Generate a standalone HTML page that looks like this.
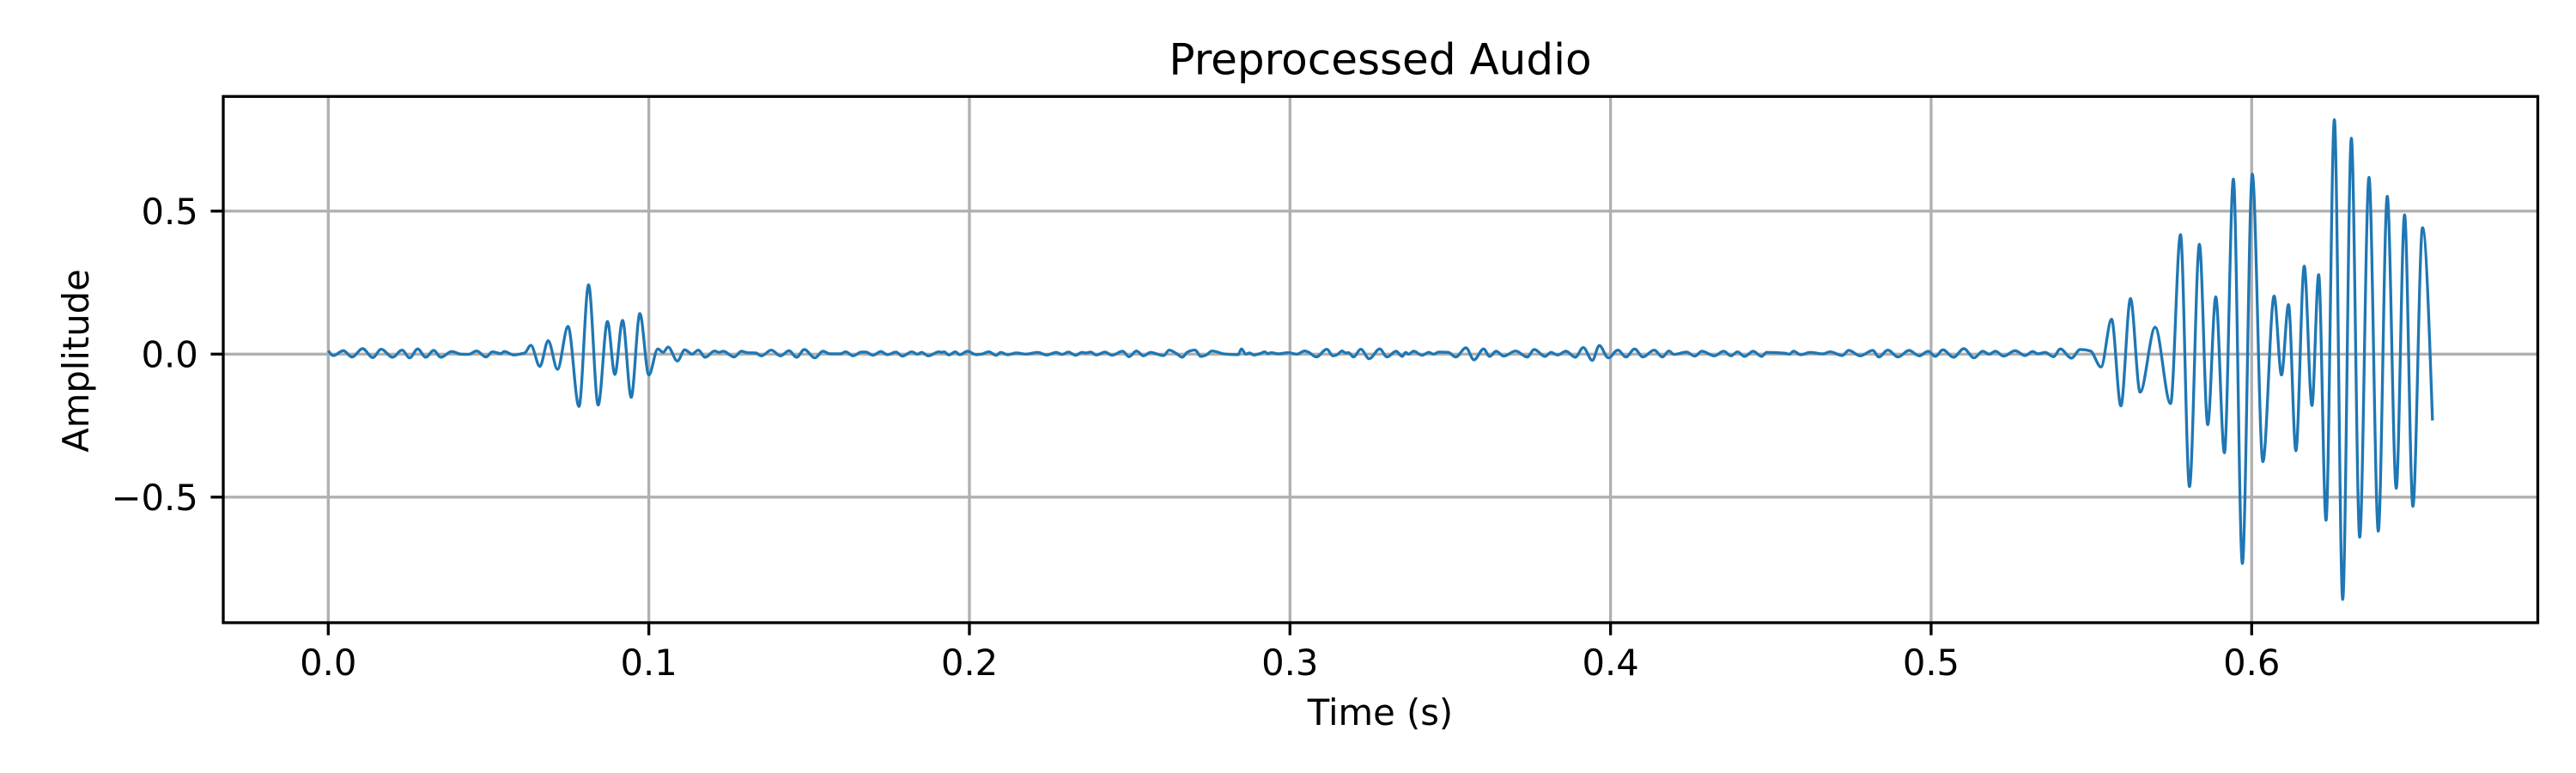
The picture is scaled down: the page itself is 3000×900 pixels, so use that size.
<!DOCTYPE html>
<html lang="en">
<head>
<meta charset="utf-8">
<title>Preprocessed Audio</title>
<style>
html,body{margin:0;padding:0;background:#fff;width:3000px;height:900px;overflow:hidden}
svg{display:block}
text{font-family:"DejaVu Sans","Liberation Sans",sans-serif;fill:#000}
</style>
</head>
<body>
<svg id="chart" xmlns="http://www.w3.org/2000/svg" width="3000" height="900" viewBox="0 0 3000 900">
  <rect x="0" y="0" width="3000" height="900" fill="#fff"/>
  <g id="grid"></g>
  <path id="wave" fill="none" stroke="#1f77b4" stroke-width="3.33" stroke-linejoin="round" stroke-linecap="butt"/>
  <g id="ticks"></g>
  <rect x="260" y="112.3" width="2695.5" height="612.7" fill="none" stroke="#000" stroke-width="3.33"/>
  <text x="1607.5" y="86.5" font-size="50" text-anchor="middle">Preprocessed Audio</text>
  <text x="1607.5" y="844" font-size="41.67" text-anchor="middle">Time (s)</text>
  <text transform="translate(103 420) rotate(-90)" font-size="41.67" text-anchor="middle">Amplitude</text>
</svg>
<script>
const xTicks = [0, 0.1, 0.2, 0.3, 0.4, 0.5, 0.6];
const xTickLabels = ['0.0', '0.1', '0.2', '0.3', '0.4', '0.5', '0.6'];
const yTicks = [0.5, 0, -0.5];
const yTickLabels = ['0.5', '0.0', '\u22120.5'];

const times = [
0,.0016,.0047,.0074,.0107,.0139,.0165,.0201,.0230,.0254,.0279,.0304,.0329,.0351,.0385,.0413,.0437,.0463,.0492,.0512,.0538,.0549,.0579,.0605,.0614,
.0632,.0660,.0686,.0715,.0748,.0782,.0812,.0842,.0871,.0894,.0918,.0945,.0972,.1000,.1028,.1045,.1060,.1089,.1112,.1135,.1154,.1176,
.1205,.1219,.1232,.1266,.1289,.1307,.1333,.1351,.1382,.1411,.1437,.1461,.1485,.1518,.1543,.1565,.1597,.1614,.1637,.1663,.1677,.1699,.1724,.1744,.1771,.1791,
.1820,.1838,.1851,.1872,.1905,.1914,.1921,.1936,.1956,.1970,.1994,.2021,.2038,.2061,.2083,.2098,.2119,.2146,.2177,.2213,.2241,.2271,.2289,.2309,.2331,.2351,.2364,.2378,
.2396,.2423,.2445,.2478,.2498,.2521,.2543,.2565,.2606,.2623,.2646,.2664,.2680,.2704,.2722,.2739,.2757,.2793,.2838,.2849,.2862,.2874,.2887,.2909,.2921,.2931,.2942,.2963,.2994,
.3022,.3046,.3059,.3082,.3115,.3134,.3147,.3163,.3173,.3183,.3198,.3221,.3247,.3280,.3303,.3331,.3350,.3361,.3370,.3386,.3412,.3433,.3448,.3464,.3494,
.3517,.3549,.3574,.3604,.3623,.3643,.3667,.3704,.3740,.3762,.3796,.3814,.3835,.3861,.3890,.3915,.3943,.3965,.3993,.4023,.4048,.4075,.4101,.4136,.4162,.4182,.4198,
.4237,.4263,.4285,.4324,.4353,.4376,.4396,.4418,.4445,.4471,.4487,.4545,.4558,.4571,.4593,.4623,.4662,.4685,.4723,.4743,.4779,.4818,.4837,.4865,.4897,.4931,.4963,.4991,
.5013,.5037,.5070,.5102,.5134,.5161,.5181,.5201,.5226,.5262,.5293,.5317,.5333,.5356,.5382,.5403,.5438,.5465,.5497,.5530,.5563,.5592,.5622,.5652,.5699,.5747,
.5778,.5806,.5837,.5863,.5888,.5915,.5943,.5971,.6002,.6035,.6070,.6093,.6115,.6138,.6164,.6188,.6209,.6232,.6258,.6284,.6311,.6337,.6366,.6395,.6423,.6451,.6477,.6503,.6533,.6564
];

const amplitudes = [
.012,-.005,.012,-.010,.019,-.012,.017,-.011,.014,-.013,.018,-.011,.013,-.011,.009,0,-.001,.011,-.010,.008,.002,.009,-.003,.002,.005,
.031,-.043,.047,-.053,.097,-.183,.242,-.178,.114,-.071,.118,-.151,.142,-.073,.018,.006,.025,-.024,.015,0,.014,-.011,
.011,.006,.010,-.010,.010,.005,.004,-.006,.014,-.006,.012,-.011,.016,-.013,.010,.001,.001,.008,-.006,.007,.007,-.004,.009,-.002,.007,-.007,
.008,0,.006,-.006,.008,.006,.008,-.003,.008,-.002,.010,-.002,0,.008,-.004,.006,-.002,.004,0,.006,-.003,.006,-.001,.007,-.004,.006,.004,.007,
-.003,.007,-.004,.010,-.009,.011,-.006,.006,-.005,.014,.002,-.011,.007,.014,-.008,-.003,.011,.001,-.002,.018,0,.004,-.003,.003,.008,.002,.005,.001,.005,
0,.011,.006,-.010,.017,-.006,-.002,.011,.004,.005,-.010,.017,-.016,.018,-.010,.010,-.008,.006,0,.010,-.004,.006,0,.007,.006,
-.010,.022,-.020,.018,-.008,.010,-.007,.011,-.010,.016,-.008,.006,-.003,.010,-.011,.023,-.022,.030,-.013,.014,-.010,.018,-.010,.014,-.010,.011,-.001,
.007,-.007,.010,-.006,.010,-.006,.008,-.008,.010,-.008,.006,.003,0,.010,-.002,.006,.001,.008,-.005,.013,-.006,.013,-.010,.014,-.010,.013,-.006,.010,
-.008,.015,-.011,.019,-.013,.010,0,.010,-.007,.012,-.005,.009,.001,.006,-.009,.018,-.014,.016,.011,-.045,.122,-.181,.194,-.133,.094,-.173,
.418,-.463,.384,-.247,.200,-.345,.612,-.732,.629,-.376,.203,-.073,.173,-.338,.308,-.180,.278,-.581,.820,-.858,.755,-.640,.618,-.619,.552,-.469,.487,-.532,.442,-.232
];

const plotLeft = 260, plotRight = 2955.5, plotTop = 112.3, plotBottom = 725;
const NS = 'http://www.w3.org/2000/svg';
const xScale = t => 382.3 + t * 3733.3;
const yScale = a => 412.3 - a * 333;

function makeLine(parent, x1, y1, x2, y2, stroke) {
  const line = document.createElementNS(NS, 'line');
  line.setAttribute('x1', x1);
  line.setAttribute('y1', y1);
  line.setAttribute('x2', x2);
  line.setAttribute('y2', y2);
  line.setAttribute('stroke', stroke);
  line.setAttribute('stroke-width', '3.33');
  parent.appendChild(line);
  return line;
}

function makeLabel(parent, x, y, anchor, content) {
  const label = document.createElementNS(NS, 'text');
  label.setAttribute('x', x);
  label.setAttribute('y', y);
  label.setAttribute('font-size', '41.67');
  label.setAttribute('text-anchor', anchor);
  label.textContent = content;
  parent.appendChild(label);
  return label;
}

const gridGroup = document.getElementById('grid');
const tickGroup = document.getElementById('ticks');

xTicks.forEach((v, i) => {
  const x = xScale(v);
  const gridLine = makeLine(gridGroup, x, plotTop, x, plotBottom, '#b0b0b0');
  
  
  const tick = makeLine(tickGroup, x, plotBottom, x, plotBottom + 14.6, '#000');
  
  
  const label = makeLabel(tickGroup, x, 786, 'middle', xTickLabels[i]);
  
  
});

yTicks.forEach((v, i) => {
  const y = yScale(v);
  const gridLine = makeLine(gridGroup, plotLeft, y, plotRight, y, '#b0b0b0');
  
  
  const tick = makeLine(tickGroup, plotLeft - 14.6, y, plotLeft, y, '#000');
  
  
  const label = makeLabel(tickGroup, plotLeft - 29.2, y + 15.2, 'end', yTickLabels[i]);
  
  
});

// Monotone cubic curve through the amplitudes.
function monotonePath(xs, ys) {
  const n = xs.length;
  const slopes = new Array(n).fill(0);
  for (let i = 1; i < n - 1; i++) {
    const h0 = xs[i] - xs[i - 1], h1 = xs[i + 1] - xs[i];
    const s0 = (ys[i] - ys[i - 1]) / h0, s1 = (ys[i + 1] - ys[i]) / h1;
    if (s0 * s1 <= 0) { slopes[i] = 0; continue; }
    const p = (s0 * h1 + s1 * h0) / (h0 + h1);
    slopes[i] = Math.sign(s0) * Math.min(Math.abs(s0), Math.abs(s1), 0.5 * Math.abs(p)) * 2;
  }
  const h0 = xs[1] - xs[0];
  slopes[0] = (3 * (ys[1] - ys[0]) / h0 - slopes[1]) / 2;
  const hn = xs[n - 1] - xs[n - 2];
  slopes[n - 1] = (3 * (ys[n - 1] - ys[n - 2]) / hn - slopes[n - 2]) / 2;
  let d = 'M' + xs[0].toFixed(2) + ' ' + ys[0].toFixed(2);
  for (let i = 0; i < n - 1; i++) {
    const h = (xs[i + 1] - xs[i]) / 3;
    d += 'C' + (xs[i] + h).toFixed(2) + ' ' + (ys[i] + slopes[i] * h).toFixed(2) + ' ' +
         (xs[i + 1] - h).toFixed(2) + ' ' + (ys[i + 1] - slopes[i + 1] * h).toFixed(2) + ' ' +
         xs[i + 1].toFixed(2) + ' ' + ys[i + 1].toFixed(2);
  }
  return d;
}

document.getElementById('wave').setAttribute('d', monotonePath(times.map(xScale), amplitudes.map(yScale)));
</script>
</body>
</html>
